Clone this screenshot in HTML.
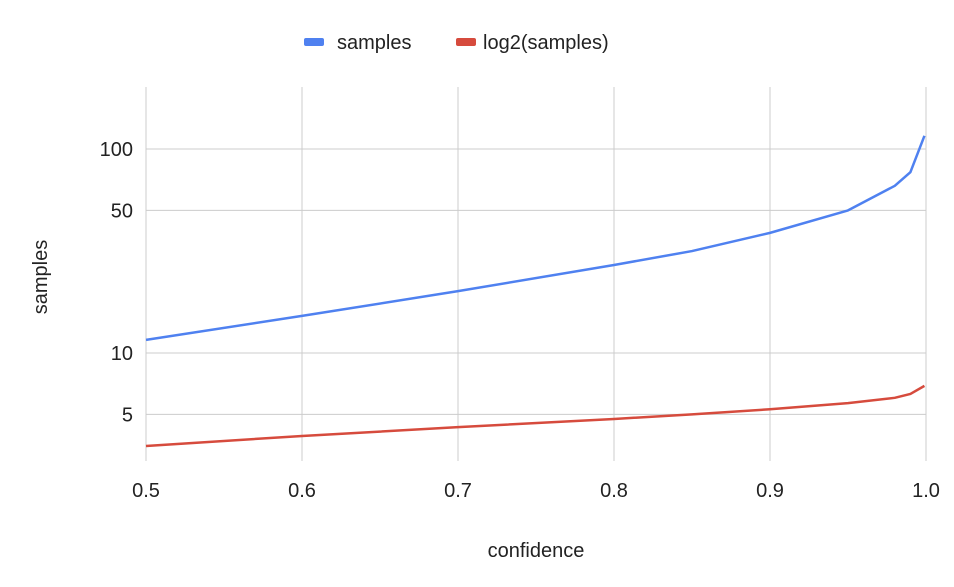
<!DOCTYPE html>
<html><head><meta charset="utf-8"><style>
body{margin:0;background:#fff}
svg{font-family:"Liberation Sans",Arial,sans-serif}
</style></head><body>
<svg width="954" height="582" id="c">
<g id="grid"></g>
<g id="series"></g>
<g id="ticks"></g>
<g>
<rect x="304" y="38" width="20" height="8" rx="2" fill="#4f81f0"/>
<text x="337" y="49" font-size="20" fill="#222">samples</text>
<rect x="456" y="38" width="20" height="8" rx="2" fill="#d64b3d"/>
<text x="483" y="49" font-size="20" fill="#222">log2(samples)</text>
</g>
<text x="536" y="557" font-size="20" text-anchor="middle" fill="#222">confidence</text>
<text transform="translate(47,277) rotate(-90)" font-size="20" text-anchor="middle" fill="#222">samples</text>
</svg>
<script>
const confidence=[0.5,0.6,0.7,0.8,0.85,0.9,0.95,0.98,0.99,0.999];
const samples=[11.6,15.2,20.1,27,31.6,38.8,50,66,77,116];
const log2samples=[3.5,3.92,4.33,4.75,5.0,5.3,5.68,6.03,6.3,6.9];
const xTicks=[0.5,0.6,0.7,0.8,0.9,1.0];
const yTicks=[5,10,50,100];
const NS="http://www.w3.org/2000/svg";
const X=v=>146+(v-0.5)*1560;
const Y=v=>353-(Math.log10(v)-1)*204;
const grid=document.getElementById('grid'),ticks=document.getElementById('ticks'),ser=document.getElementById('series');
function mk(tag,attrs,parent){const e=document.createElementNS(NS,tag);for(const k in attrs)e.setAttribute(k,attrs[k]);parent.appendChild(e);return e;}
xTicks.forEach(t=>{
 const l=mk('line',{x1:X(t),x2:X(t),y1:87,y2:461,stroke:'#ccc','stroke-width':1},grid);
 
 
 const tx=mk('text',{x:X(t),y:497,'font-size':20,'text-anchor':'middle',fill:'#222'},ticks);
 tx.textContent=t.toFixed(1);
 
 
});
yTicks.forEach(t=>{
 const l=mk('line',{x1:146,x2:926,y1:Y(t),y2:Y(t),stroke:'#ccc','stroke-width':1},grid);
 
 
 const tx=mk('text',{x:133,y:Y(t)+7,'font-size':20,'text-anchor':'end',fill:'#222'},ticks);
 tx.textContent=t;
 
 
});
function line(vals,color,name){
 const p=mk('polyline',{points:vals.map((v,i)=>X(confidence[i])+','+Y(v)).join(' '),fill:'none',stroke:color,'stroke-width':2.5,'stroke-linejoin':'round'},ser);
 
 
}
line(samples,'#4f81f0','samples-line');
line(log2samples,'#d64b3d','log2-samples-line');
</script>
</body></html>
